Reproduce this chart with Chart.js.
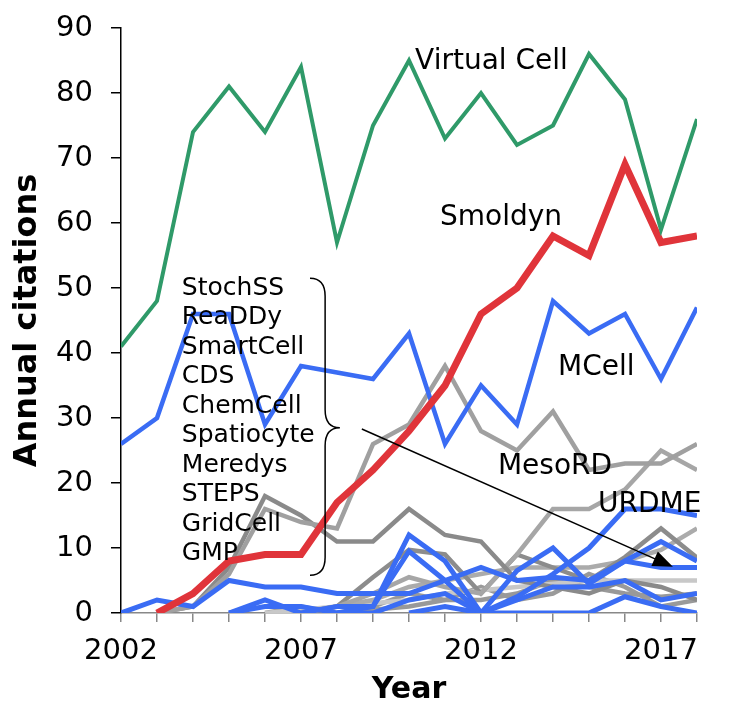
<!DOCTYPE html>
<html>
<head>
  <title>Annual citations</title>
  <script src="https://cdn.jsdelivr.net/npm/chart.js"></script>
  <style>
    body { margin: 0; background: #fff; }
    #wrap { width: 749px; height: 718px; }
  </style>
</head>
<body>
  <div id="wrap"><canvas id="citeChart" width="749" height="718"></canvas></div>

  <script>
    const years = [2002,2003,2004,2005,2006,2007,2008,2009,2010,2011,2012,2013,2014,2015,2016,2017,2018];
    const yearLabels = [2002, 2007, 2012, 2017];

    const virtualCell = [41,48,74,81,74,84,57,75,85,73,80,72,75,86,79,59,76];
    const smoldyn = [null,0,3,8,9,9,17,22,28,35,46,50,58,55,69,57,58];
    const mcell = [26,30,46,46,29,38,37,36,43,26,35,29,48,43,46,36,47];
    const mesoRD = [null,0,1,6,16,14,13,26,29,38,28,25,31,22,23,23,26];
    const urdme = [null,null,null,null,null,null,0,1,9.5,5,0,2.5,6,10,16,16,15];

    // the bundle of small tools (blue = particle, grey = lattice)
    const blue1 = [0,2,1,5,4,4,3,3,3,5,7,5,5.5,5,8,7,7];
    const blue2 = [null,null,null,0,2,0,1,1,12,8,0,6.5,10,4.5,8,11,8];
    const blue3 = [null,null,null,0,1,1,0,0,2,3,0,0,0,0,2.5,1,0];
    const blue4 = [null,null,null,null,null,null,null,null,0,1,0,2,4,4,5,2,3];
    const grey1 = [null,0,1,7,18,15,11,11,16,12,11,5,4,3,5,4,2];
    const grey2 = [null,null,null,null,null,0,1,3,5.5,4,3,9,16,16,19,25,22];
    const grey3 = [null,null,null,null,null,0,1,5.5,9.7,9,3,9,7,5,8.6,13,8.5];
    const grey4 = [null,null,null,null,null,0,1,2,4,5,6,7,7,7,8,9.7,13];
    const grey5 = [null,null,null,null,0,0.5,1,1.5,2,3,3.5,4,4.5,5,5,5,5];
    const grey6 = [null,null,null,null,null,null,0,0.5,1,2,2,3,5,4,3,2.5,3];
    const grey7 = [null,null,null,null,0,1,0,1,3,2,4,2,3,6,4,1,2];

    const smallTools = ['StochSS','ReaDDy','SmartCell','CDS','ChemCell','Spatiocyte','Meredys','STEPS','GridCell','GMP'];

    const GREEN = '#2f9a69', RED = '#e0343a', BLUE = '#3a6cf4';

    function pts(vals) {
      return years.map((y, i) => ({ x: y, y: vals[i] }));
    }
    function line(label, vals, color, width) {
      return { label, data: pts(vals), borderColor: color, borderWidth: width,
               pointRadius: 0, fill: false, tension: 0, borderJoinStyle: 'miter' };
    }

    // first dataset is drawn on top
    const datasets = [
      line('Virtual Cell', virtualCell, GREEN, 4),
      line('Smoldyn', smoldyn, RED, 7),
      line('MCell', mcell, BLUE, 4.5),
      line('URDME', urdme, BLUE, 5),
      line('blue1', blue1, BLUE, 5),
      line('blue2', blue2, BLUE, 5),
      line('blue3', blue3, BLUE, 5),
      line('blue4', blue4, BLUE, 5),
      line('MesoRD', mesoRD, '#a0a0a0', 4.5),
      line('grey1', grey1, '#8a8a8a', 4.5),
      line('grey2', grey2, '#a6a6a6', 4.5),
      line('grey3', grey3, '#8c8c8c', 4.5),
      line('grey4', grey4, '#ababab', 4.5),
      line('grey5', grey5, '#c8c8c8', 4.5),
      line('grey6', grey6, '#999999', 4.5),
      line('grey7', grey7, '#9a9a9a', 4.5)
    ];

    const notes = {
      id: 'notes',
      afterDatasetsDraw(chart) {
        const c = chart.ctx;
        const px = v => chart.scales.x.getPixelForValue(v);
        const py = v => chart.scales.y.getPixelForValue(v);
        c.save();
        c.fillStyle = '#000';
        c.textBaseline = 'middle';
        c.textAlign = 'left';
        c.font = '28px "DejaVu Sans"';
        c.fillText('Virtual Cell', px(2010.17), py(84.8));
        c.fillText('Smoldyn', px(2010.86), py(60.8));
        c.fillText('MCell', px(2014.14), py(37.7));
        c.fillText('MesoRD', px(2012.47), py(22.5));
        c.fillText('URDME', px(2015.25), py(16.6));

        c.font = '25px "DejaVu Sans"';
        smallTools.forEach((t, i) => c.fillText(t, px(2003.69), py(50 - i * 4.54)));

        // curly brace
        const xa = px(2007.25), xb = px(2007.67), xc = px(2008.08);
        const yt = py(51.5), ym = py(28.5), yb = py(5.8);
        const r = 18;
        c.strokeStyle = '#000';
        c.lineWidth = 1.5;
        c.beginPath();
        c.moveTo(xa, yt);
        c.quadraticCurveTo(xb, yt, xb, yt + r);
        c.lineTo(xb, ym - r);
        c.quadraticCurveTo(xb, ym, xc, ym);
        c.quadraticCurveTo(xb, ym, xb, ym + r);
        c.lineTo(xb, yb - r);
        c.quadraticCurveTo(xb, yb, xa, yb);
        c.stroke();

        // arrow
        const x0 = px(2008.69), y0 = py(28.3), x1 = px(2017.33), y1 = py(7.1);
        const ang = Math.atan2(y1 - y0, x1 - x0);
        c.beginPath();
        c.moveTo(x0, y0);
        c.lineTo(x1 - 14 * Math.cos(ang), y1 - 14 * Math.sin(ang));
        c.stroke();
        c.beginPath();
        c.moveTo(x1, y1);
        c.lineTo(x1 - 20 * Math.cos(ang) + 8 * Math.sin(ang), y1 - 20 * Math.sin(ang) - 8 * Math.cos(ang));
        c.lineTo(x1 - 20 * Math.cos(ang) - 8 * Math.sin(ang), y1 - 20 * Math.sin(ang) + 8 * Math.cos(ang));
        c.closePath();
        c.fill();
        c.restore();
      }
    };

    new Chart(document.getElementById('citeChart'), {
      type: 'line',
      data: { datasets },
      plugins: [notes],
      options: {
        responsive: false,
        animation: false,
        layout: { padding: { top: 28, right: 52, bottom: 0, left: 0 } },
        plugins: { legend: { display: false }, tooltip: { enabled: false } },
        scales: {
          x: {
            type: 'linear', min: 2002, max: 2018,
            afterFit: s => { s.height = 105; s.paddingRight = 0; s.paddingLeft = 0; },
            border: { color: '#888', width: 1.5 },
            grid: { drawOnChartArea: false, drawTicks: true, tickLength: 9, color: '#888', lineWidth: 1.5 },
            ticks: {
              stepSize: 1, autoSkip: false, maxRotation: 0, padding: 12,
              color: '#000', font: { family: 'DejaVu Sans', size: 29 },
              callback: v => yearLabels.includes(v) ? String(v) : ''
            },
            title: { display: true, text: 'Year', color: '#000',
                     font: { family: 'DejaVu Sans', size: 30, weight: 'bold' },
                     padding: { top: 4, bottom: 10 } }
          },
          y: {
            min: 0, max: 90,
            afterFit: s => { s.width = 121; s.paddingTop = 0; s.paddingBottom = 0; },
            border: { color: '#000', width: 1.5 },
            grid: { drawOnChartArea: false, drawTicks: true, tickLength: 10, color: '#000', lineWidth: 1.5 },
            ticks: { stepSize: 10, padding: 18, color: '#000',
                     font: { family: 'DejaVu Sans', size: 29 } },
            title: { display: true, text: 'Annual citations', color: '#000',
                     font: { family: 'DejaVu Sans', size: 32, weight: 'bold' },
                     padding: { top: 8, bottom: 4 } }
          }
        }
      }
    });
  </script>
</body>
</html>
